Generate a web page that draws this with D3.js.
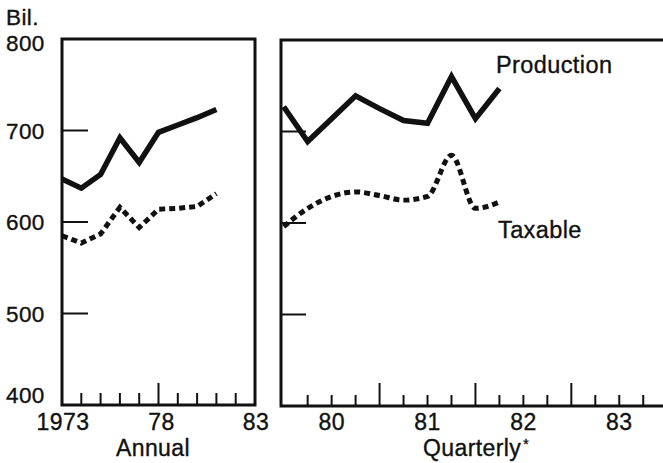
<!DOCTYPE html>
<html>
<head>
<meta charset="utf-8">
<script src="https://cdn.jsdelivr.net/npm/d3@7"></script>
<style>
  html, body { margin: 0; padding: 0; background: #fff; }
  svg { display: block; }
  text { font-family: "Liberation Sans", Arial, Helvetica, sans-serif; fill: #111; stroke: #111; stroke-width: 0.35px; letter-spacing: 0.4px; }
</style>
</head>
<body>
<svg id="chart" width="663" height="463"></svg>
<script>
// ---- data ----
const annualYears = [1973, 1974, 1975, 1976, 1977, 1978, 1979, 1980, 1981];
const annualProduction = [647, 637, 652, 692, 665, 698, 706, 714, 723];
const annualTaxable = [585, 577, 587, 616, 594, 614, 615, 617, 631];

const quarters = ["80Q1", "80Q2", "80Q3", "80Q4", "81Q1", "81Q2", "81Q3", "81Q4", "82Q1", "82Q2"];
const quarterlyProduction = [727, 689, 714, 739, 725, 712, 709, 760, 714, 747];
const quarterlyTaxable = [596, 616, 629, 634, 630, 625, 629, 674, 616, 623];

const yTicks = [400, 500, 600, 700, 800];
const annualTickLabels = [[1973, "1973"], [1978, "78"], [1983, "83"]];
const quarterYearLabels = ["80", "81", "82", "83"];

// ---- layout ----
const svg = d3.select("#chart");
const ink = "#111";

const L = { x0: 62, x1: 255, y0: 39, y1: 405 };
const R = { x0: 281, x1: 700, y0: 40, y1: 406 };

const yL = d3.scaleLinear().domain([400, 800]).range([L.y1, L.y0]);
const yR = d3.scaleLinear().domain([400, 800]).range([R.y1, R.y0]);
const xL = d3.scaleLinear().domain([1973, 1983]).range([L.x0, L.x1]);
const qIndex = q => (+q.slice(0, 2) - 80) * 4 + (+q.slice(3) - 1);
const xR = d3.scaleLinear().domain([0, 16]).range([283.7, 667.2]);

// frames
svg.append("rect").attr("x", L.x0).attr("y", L.y0).attr("width", L.x1 - L.x0).attr("height", L.y1 - L.y0)
  .attr("fill", "none").attr("stroke", ink).attr("stroke-width", 3);
svg.append("path").attr("d", `M${R.x1},${R.y0}H${R.x0}V${R.y1}H${R.x1}`)
  .attr("fill", "none").attr("stroke", ink).attr("stroke-width", 3);

// y ticks (inside) - left panel
svg.append("g").selectAll("line").data(yTicks.filter(v => v > 400 && v < 800)).join("line")
  .attr("x1", L.x0).attr("x2", L.x0 + 26)
  .attr("y1", d => yL(d)).attr("y2", d => yL(d))
  .attr("stroke", ink).attr("stroke-width", 2);
// y ticks - right panel
svg.append("g").selectAll("line").data(yTicks.filter(v => v > 400 && v < 800)).join("line")
  .attr("x1", R.x0).attr("x2", R.x0 + 25)
  .attr("y1", d => yR(d)).attr("y2", d => yR(d))
  .attr("stroke", ink).attr("stroke-width", 2);

// y labels
svg.append("g").selectAll("text").data(yTicks).join("text")
  .attr("x", 6)
  .attr("y", d => Math.min(Math.max(yL(d), 43), 395) + 8)
  .attr("font-size", 22.5)
  .text(d => d);
svg.append("text").attr("x", 6).attr("y", 25).attr("font-size", 22.5).text("Bil.");

// x ticks - left
const annualTickYears = d3.range(1974, 1983);
svg.append("g").selectAll("line").data(annualTickYears).join("line")
  .attr("x1", d => xL(d)).attr("x2", d => xL(d))
  .attr("y1", L.y1).attr("y2", d => L.y1 - (d === 1978 ? 22 : 12))
  .attr("stroke", ink).attr("stroke-width", 2);
svg.append("g").selectAll("text").data(annualTickLabels).join("text")
  .attr("x", d => xL(d[0]) + (d[0] === 1978 ? 3 : 1)).attr("y", 430)
  .attr("text-anchor", "middle").attr("font-size", 23)
  .text(d => d[1]);
svg.append("text").attr("x", 153).attr("y", 456).attr("text-anchor", "middle")
  .attr("font-size", 23).text("Annual");

// x ticks - right
svg.append("g").selectAll("line").data(d3.range(1, 16)).join("line")
  .attr("x1", d => xR(d)).attr("x2", d => xR(d))
  .attr("y1", R.y1).attr("y2", d => R.y1 - (d % 4 === 0 ? 23 : 11))
  .attr("stroke", ink).attr("stroke-width", 2);
svg.append("g").selectAll("text").data(quarterYearLabels).join("text")
  .attr("x", (d, i) => xR(i * 4 + 2)).attr("y", 430)
  .attr("text-anchor", "middle").attr("font-size", 23)
  .text(d => d);
const qt = svg.append("text").attr("x", 476).attr("y", 456).attr("text-anchor", "middle").attr("font-size", 23);
qt.append("tspan").text("Quarterly");
qt.append("tspan").attr("font-size", 14).attr("dy", -7).attr("dx", 2).text("*");

// lines
const lineA = d3.line().x(d => xL(d[0])).y(d => yL(d[1]));
const lineQ = d3.line().x(d => xR(qIndex(d[0]))).y(d => yR(d[1]));
const lineQs = d3.line().x(d => xR(qIndex(d[0]))).y(d => yR(d[1])).curve(d3.curveMonotoneX);

svg.append("path").datum(annualYears.map((y, i) => [y, annualProduction[i]]))
  .attr("d", lineA).attr("fill", "none").attr("stroke", ink).attr("stroke-width", 5.5)
  .attr("stroke-linejoin", "miter");
svg.append("path").datum(annualYears.map((y, i) => [y, annualTaxable[i]]))
  .attr("d", lineA).attr("fill", "none").attr("stroke", ink).attr("stroke-width", 5)
  .attr("stroke-dasharray", "6 4");

svg.append("path").datum(quarters.map((q, i) => [q, quarterlyProduction[i]]))
  .attr("d", lineQ).attr("fill", "none").attr("stroke", ink).attr("stroke-width", 5.5)
  .attr("stroke-linejoin", "miter");
svg.append("path").datum(quarters.map((q, i) => [q, quarterlyTaxable[i]]))
  .attr("d", lineQs).attr("fill", "none").attr("stroke", ink).attr("stroke-width", 5)
  .attr("stroke-dasharray", "6 4");

// series labels
svg.append("text").attr("x", 496).attr("y", 73).attr("font-size", 23.5).text("Production");
svg.append("text").attr("x", 498).attr("y", 238).attr("font-size", 23.5).text("Taxable");
</script>
</body>
</html>
